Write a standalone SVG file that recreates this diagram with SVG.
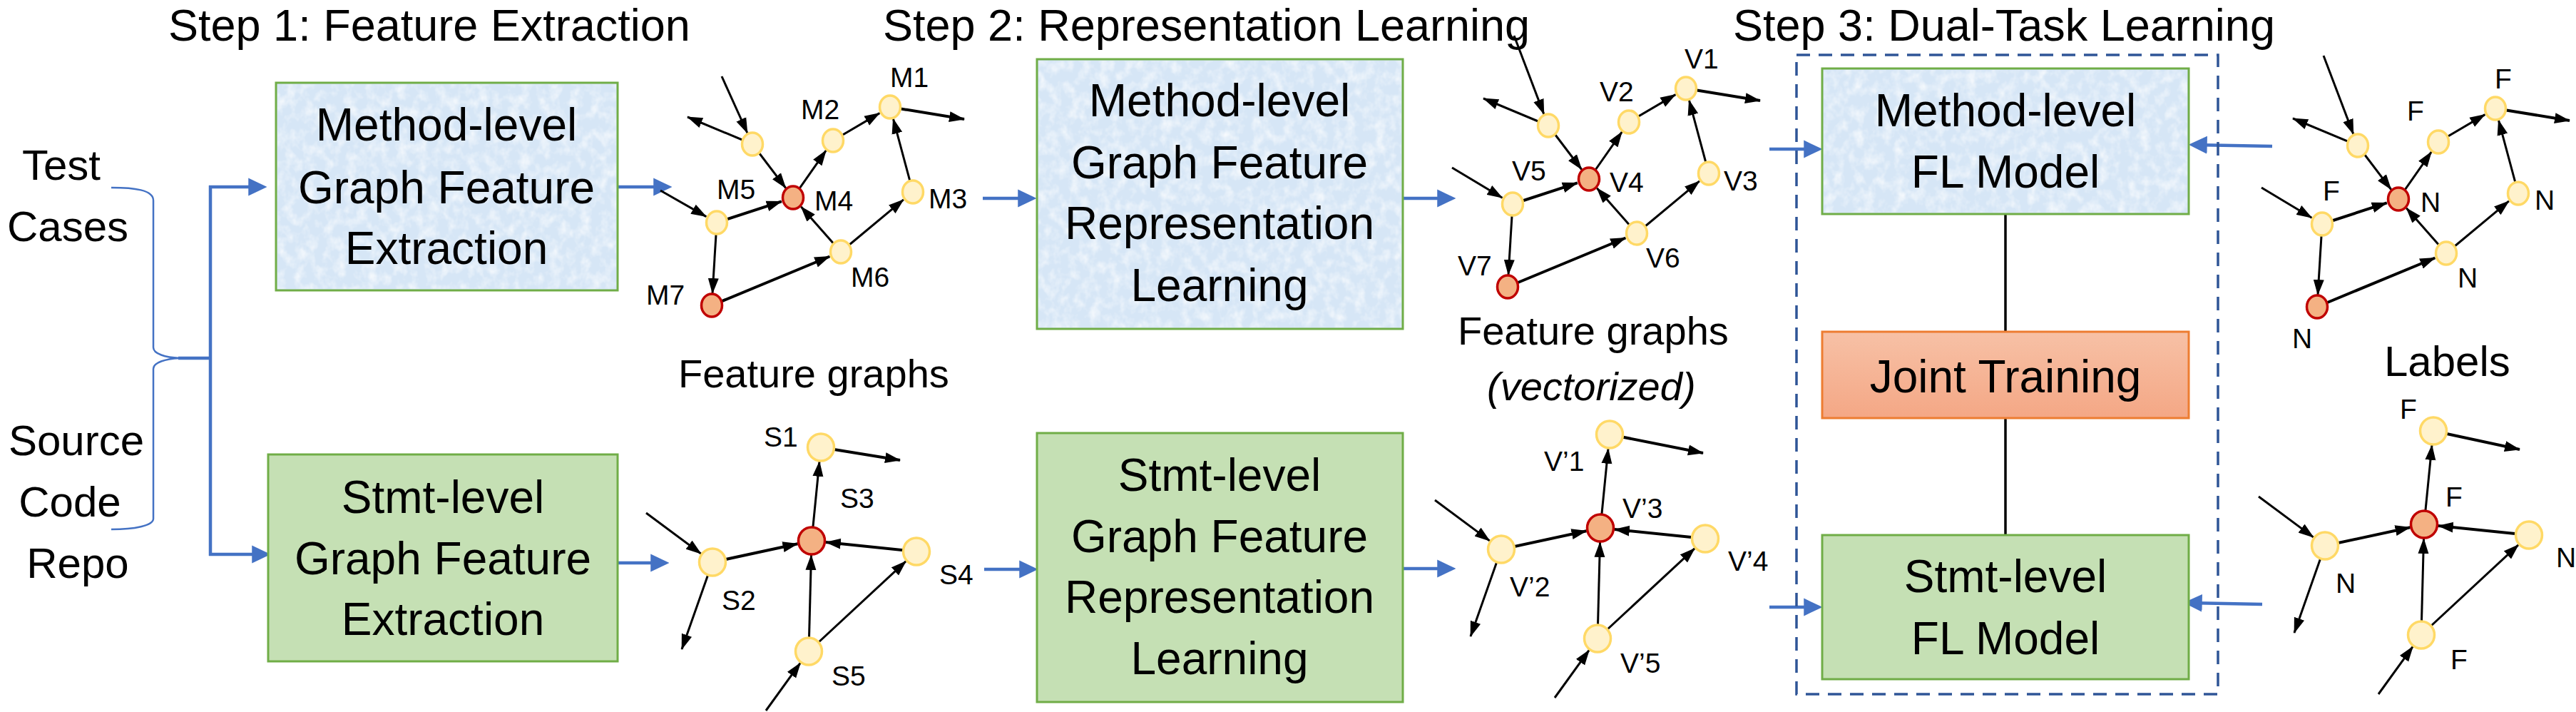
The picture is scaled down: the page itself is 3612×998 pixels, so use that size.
<svg xmlns="http://www.w3.org/2000/svg" width="3612" height="998" viewBox="0 0 3612 998">
<defs>
<style>
text{font-family:"Liberation Sans",Arial,sans-serif;fill:#000}
.big{font-size:64px}
.ttl{font-size:63px}
.mid{font-size:56px}
.lbl{font-size:39px}
.box-m{fill:#D6E6F6;stroke:#70AD47;stroke-width:3}
.box-s{fill:#C5E0B4;stroke:#70AD47;stroke-width:3}
.tex{fill:#fff}
.ny{fill:#FFF2CC;stroke:#FFD966;stroke-width:3.5}
.nr{fill:#F4B183;stroke:#C00000;stroke-width:3.5}
.e{stroke:#000;stroke-width:3;fill:none;marker-end:url(#ah)}
.et{stroke:#000;stroke-width:4;fill:none;marker-end:url(#ah)}
.b{stroke:#4472C4;stroke-width:4.5;fill:none;marker-end:url(#bh)}
.bl{stroke:#4472C4;stroke-width:4.5;fill:none}
.brace{stroke:#4472C4;stroke-width:2.5;fill:none}
.ln{stroke:#000;stroke-width:3.5}
</style>
<marker id="ah" markerUnits="userSpaceOnUse" markerWidth="22" markerHeight="16" refX="21" refY="7.5" orient="auto" viewBox="0 0 22 15">
<path d="M0,0 L22,7.5 L0,15 Z" fill="#000"/>
</marker>
<marker id="bh" markerUnits="userSpaceOnUse" markerWidth="26" markerHeight="26" refX="18" refY="12" orient="auto" viewBox="0 0 25 24">
<path d="M0,0 L25,12 L0,24 Z" fill="#4472C4"/>
</marker>
<linearGradient id="jg" x1="0" y1="0" x2="0" y2="1">
<stop offset="0" stop-color="#F7C1A6"/>
<stop offset="1" stop-color="#F4A785"/>
</linearGradient>
<filter id="speckle" x="0" y="0" width="1" height="1">
<feTurbulence type="fractalNoise" baseFrequency="0.07 0.06" numOctaves="3" seed="4" result="n"/>
<feColorMatrix in="n" type="matrix" values="0 0 0 0 1  0 0 0 0 1  0 0 0 0 1  0 0 0 1.5 -0.62" result="a"/>
<feComposite in="a" in2="SourceGraphic" operator="in"/>
</filter>
</defs>
<rect width="3612" height="998" fill="#fff"/>

<g id="titles">
<text class="ttl" x="236" y="57">Step 1: Feature Extraction</text>
<text class="ttl" x="1238" y="57">Step 2: Representation Learning</text>
<text class="ttl" x="2430" y="57">Step 3: Dual-Task Learning</text>
</g>

<g id="inputs">
<text class="big" x="86" y="252" text-anchor="middle" style="font-size:60px">Test</text>
<text class="big" x="95" y="338" text-anchor="middle" style="font-size:60px">Cases</text>
<text class="big" x="107" y="638" text-anchor="middle" style="font-size:60px">Source</text>
<text class="big" x="98" y="724" text-anchor="middle" style="font-size:60px">Code</text>
<text class="big" x="109" y="810" text-anchor="middle" style="font-size:60px">Repo</text>
</g>

<g id="connectors">
<path class="brace" d="M156,263 C188,263 215,266 215,281 L215,487 C215,496 232,501 252,502"/>
<path class="brace" d="M252,502 C232,503 215,508 215,517 L215,727 C215,737 188,742 156,742"/>
<path class="bl" d="M250,502 H295 M295,260 V779"/>
<path class="b" d="M293,262 H367"/>
<path class="b" d="M293,777 H372"/>
<path class="b" d="M866,262 H935"/>
<path class="b" d="M866,789 H931"/>
<path class="b" d="M1378,278 H1446"/>
<path class="b" d="M1380,798 H1448"/>
<path class="b" d="M1967,278 H2034"/>
<path class="b" d="M1967,797 H2034"/>
<path class="b" d="M2481,209 H2548"/>
<path class="b" d="M2481,851 H2548"/>
<path class="b" d="M3186,205 L3076,203"/>
<path class="b" d="M3172,847 L3069,845"/>
<line class="ln" x1="2812" y1="300" x2="2812" y2="465"/>
<line class="ln" x1="2812" y1="586" x2="2812" y2="750"/>

<g id="edges-m">
<path class="e" d="M1012,107 L1048,186.5"/>
<path class="e" d="M1055,202 L964,164"/>
<path class="e" d="M1055,202 L1101.7,263.5"/>
<path class="e" d="M1112,277 L1158.3,210.9"/>
<path class="e" d="M1168,197 L1233.3,158.6"/>
<path class="et" d="M1248,150 L1352,167"/>
<path class="e" d="M1280,269 L1252.4,166.4"/>
<path class="et" d="M1005,312 L1095.8,282.3"/>
<path class="e" d="M1179,353 L1123.2,289.8"/>
<path class="e" d="M1179,353 L1266.9,279.9"/>
<path class="e" d="M1005,312 L999,411"/>
<path class="et" d="M998,428 L1163.3,359.5"/>
<path class="e" d="M926,267 L990.2,303.6"/>
</g>
<g id="edges-v" transform="translate(1116,-26)">
<path class="e" d="M1007,76 L1048.9,186.1"/>
<path class="e" d="M1055,202 L964,164"/>
<path class="e" d="M1055,202 L1101.7,263.5"/>
<path class="e" d="M1112,277 L1158.3,210.9"/>
<path class="e" d="M1168,197 L1233.3,158.6"/>
<path class="et" d="M1248,150 L1352,167"/>
<path class="e" d="M1280,269 L1252.4,166.4"/>
<path class="et" d="M1005,312 L1095.8,282.3"/>
<path class="e" d="M1179,353 L1123.2,289.8"/>
<path class="e" d="M1179,353 L1266.9,279.9"/>
<path class="e" d="M1005,312 L999,411"/>
<path class="et" d="M998,428 L1163.3,359.5"/>
<path class="e" d="M920,261 L990.4,303.2"/>
</g>
<g id="edges-ml" transform="translate(2251,2)">
<path class="e" d="M1007,76 L1048.9,186.1"/>
<path class="e" d="M1055,202 L964,164"/>
<path class="e" d="M1055,202 L1101.7,263.5"/>
<path class="e" d="M1112,277 L1158.3,210.9"/>
<path class="e" d="M1168,197 L1233.3,158.6"/>
<path class="et" d="M1248,150 L1352,167"/>
<path class="e" d="M1280,269 L1252.4,166.4"/>
<path class="et" d="M1005,312 L1095.8,282.3"/>
<path class="e" d="M1179,353 L1123.2,289.8"/>
<path class="e" d="M1179,353 L1266.9,279.9"/>
<path class="e" d="M1005,312 L999,411"/>
<path class="et" d="M998,428 L1163.3,359.5"/>
<path class="e" d="M920,261 L990.4,303.2"/>
</g>
<g id="edges-s">
<path class="e" d="M906,719 L982.9,776.1"/>
<path class="et" d="M999,788 L1118.5,762.2"/>
<path class="et" d="M1285,773 L1157.9,760"/>
<path class="e" d="M1138,758 L1149,646.9"/>
<path class="et" d="M1151,627 L1262,645"/>
<path class="e" d="M1134,913 L1137.5,778"/>
<path class="e" d="M1134,913 L1270.3,786.6"/>
<path class="e" d="M999,788 L956,910"/>
<path class="e" d="M1074,996 L1122.3,929.2"/>
</g>
<g id="edges-vs" transform="translate(1106,-18)">
<path class="e" d="M906,719 L982.9,776.1"/>
<path class="et" d="M999,788 L1118.5,762.2"/>
<path class="et" d="M1285,773 L1157.9,760"/>
<path class="e" d="M1138,758 L1149,646.9"/>
<path class="et" d="M1151,627 L1282,653"/>
<path class="e" d="M1134,913 L1137.5,778"/>
<path class="e" d="M1134,913 L1270.3,786.6"/>
<path class="e" d="M999,788 L956,910"/>
<path class="e" d="M1074,996 L1122.3,929.2"/>
</g>
<g id="edges-sl" transform="translate(2261,-23)">
<path class="e" d="M906,719 L982.9,776.1"/>
<path class="et" d="M999,788 L1118.5,762.2"/>
<path class="et" d="M1285,773 L1157.9,760"/>
<path class="e" d="M1138,758 L1149,646.9"/>
<path class="et" d="M1151,627 L1272,653"/>
<path class="e" d="M1134,913 L1137.5,778"/>
<path class="e" d="M1134,913 L1270.3,786.6"/>
<path class="e" d="M999,788 L956,910"/>
<path class="e" d="M1074,996 L1122.3,929.2"/>
</g>
</g>

<g id="dual-task-frame">
<rect x="2519" y="77" width="591" height="896" fill="none" stroke="#2F5597" stroke-width="3.5" stroke-dasharray="19 12"/>
</g>

<g id="method-extract">
<rect class="box-m" x="387" y="116" width="479" height="291"/>
<rect class="tex" x="389" y="118" width="475" height="287" filter="url(#speckle)"/>
<text class="big" x="626" y="197" text-anchor="middle">Method-level</text>
<text class="big" x="626" y="285" text-anchor="middle">Graph Feature</text>
<text class="big" x="626" y="370" text-anchor="middle">Extraction</text>
</g>
<g id="stmt-extract">
<rect class="box-s" x="376" y="637" width="490" height="290"/>
<text class="big" x="621" y="719" text-anchor="middle">Stmt-level</text>
<text class="big" x="621" y="805" text-anchor="middle">Graph Feature</text>
<text class="big" x="621" y="890" text-anchor="middle">Extraction</text>
</g>
<g id="method-repr">
<rect class="box-m" x="1454" y="83" width="513" height="378"/>
<rect class="tex" x="1456" y="85" width="509" height="374" filter="url(#speckle)"/>
<text class="big" x="1710" y="163" text-anchor="middle">Method-level</text>
<text class="big" x="1710" y="250" text-anchor="middle">Graph Feature</text>
<text class="big" x="1710" y="335" text-anchor="middle">Representation</text>
<text class="big" x="1710" y="422" text-anchor="middle">Learning</text>
</g>
<g id="stmt-repr">
<rect class="box-s" x="1454" y="607" width="513" height="377"/>
<text class="big" x="1710" y="688" text-anchor="middle">Stmt-level</text>
<text class="big" x="1710" y="774" text-anchor="middle">Graph Feature</text>
<text class="big" x="1710" y="859" text-anchor="middle">Representation</text>
<text class="big" x="1710" y="945" text-anchor="middle">Learning</text>
</g>
<g id="method-fl">
<rect class="box-m" x="2555" y="96" width="514" height="204"/>
<rect class="tex" x="2557" y="98" width="510" height="200" filter="url(#speckle)"/>
<text class="big" x="2812" y="177" text-anchor="middle">Method-level</text>
<text class="big" x="2812" y="263" text-anchor="middle">FL Model</text>
</g>
<g id="joint-training">
<rect x="2555" y="465" width="514" height="121" fill="url(#jg)" stroke="#ED7D31" stroke-width="3"/>
<text class="big" x="2812" y="550" text-anchor="middle">Joint Training</text>
</g>
<g id="stmt-fl">
<rect class="box-s" x="2555" y="750" width="514" height="202"/>
<text class="big" x="2812" y="830" text-anchor="middle">Stmt-level</text>
<text class="big" x="2812" y="917" text-anchor="middle">FL Model</text>
</g>

<g id="captions">
<text class="mid" x="951" y="543">Feature graphs</text>
<text class="mid" x="2044" y="483">Feature graphs</text>
<text class="mid" x="2085" y="561" font-style="italic">(vectorized)</text>
<text class="big" x="3343" y="527" style="font-size:60px">Labels</text>
</g>

<g id="graph-method">
<g id="m1"><ellipse class="ny" cx="1248" cy="150" rx="14.5" ry="16"/><text class="lbl" x="1248" y="122">M1</text></g>
<g id="m2"><ellipse class="ny" cx="1168" cy="197" rx="14.5" ry="16"/><text class="lbl" x="1123" y="167">M2</text></g>
<g id="m-u"><ellipse class="ny" cx="1055" cy="202" rx="14.5" ry="16"/></g>
<g id="m4"><ellipse class="nr" cx="1112" cy="277" rx="14.5" ry="16"/><text class="lbl" x="1142" y="295">M4</text></g>
<g id="m5"><ellipse class="ny" cx="1005" cy="312" rx="14.5" ry="16"/><text class="lbl" x="1005" y="279">M5</text></g>
<g id="m3"><ellipse class="ny" cx="1280" cy="269" rx="14.5" ry="16"/><text class="lbl" x="1302" y="292">M3</text></g>
<g id="m6"><ellipse class="ny" cx="1179" cy="353" rx="14.5" ry="16"/><text class="lbl" x="1193" y="402">M6</text></g>
<g id="m7"><ellipse class="nr" cx="998" cy="428" rx="14.5" ry="16"/><text class="lbl" x="906" y="427">M7</text></g>
</g>

<g id="graph-vec">
<g id="v1"><ellipse class="ny" cx="2364" cy="124" rx="14.5" ry="16"/><text class="lbl" x="2362" y="96">V1</text></g>
<g id="v2"><ellipse class="ny" cx="2284" cy="171" rx="14.5" ry="16"/><text class="lbl" x="2243" y="142">V2</text></g>
<g id="v-u"><ellipse class="ny" cx="2171" cy="176" rx="14.5" ry="16"/></g>
<g id="v4"><ellipse class="nr" cx="2228" cy="251" rx="14.5" ry="16"/><text class="lbl" x="2257" y="269">V4</text></g>
<g id="v5"><ellipse class="ny" cx="2121" cy="286" rx="14.5" ry="16"/><text class="lbl" x="2120" y="253">V5</text></g>
<g id="v3"><ellipse class="ny" cx="2396" cy="243" rx="14.5" ry="16"/><text class="lbl" x="2417" y="267">V3</text></g>
<g id="v6"><ellipse class="ny" cx="2295" cy="327" rx="14.5" ry="16"/><text class="lbl" x="2308" y="375">V6</text></g>
<g id="v7"><ellipse class="nr" cx="2114" cy="402" rx="14.5" ry="16"/><text class="lbl" x="2044" y="386">V7</text></g>
</g>

<g id="graph-mlabels">
<g id="ml-1"><ellipse class="ny" cx="3499" cy="152" rx="14.5" ry="16"/><text class="lbl" x="3498" y="124">F</text></g>
<g id="ml-2"><ellipse class="ny" cx="3419" cy="199" rx="14.5" ry="16"/><text class="lbl" x="3375" y="169">F</text></g>
<g id="ml-u"><ellipse class="ny" cx="3306" cy="204" rx="14.5" ry="16"/></g>
<g id="ml-4"><ellipse class="nr" cx="3363" cy="279" rx="14.5" ry="16"/><text class="lbl" x="3394" y="297">N</text></g>
<g id="ml-5"><ellipse class="ny" cx="3256" cy="314" rx="14.5" ry="16"/><text class="lbl" x="3257" y="281">F</text></g>
<g id="ml-3"><ellipse class="ny" cx="3531" cy="271" rx="14.5" ry="16"/><text class="lbl" x="3554" y="294">N</text></g>
<g id="ml-6"><ellipse class="ny" cx="3430" cy="355" rx="14.5" ry="16"/><text class="lbl" x="3446" y="403">N</text></g>
<g id="ml-7"><ellipse class="nr" cx="3249" cy="430" rx="14.5" ry="16"/><text class="lbl" x="3214" y="488">N</text></g>
</g>

<g id="graph-stmt">
<g id="s1"><ellipse class="ny" cx="1151" cy="627" rx="18.5" ry="19"/><text class="lbl" x="1071" y="626">S1</text></g>
<g id="s3"><ellipse class="nr" cx="1138" cy="758" rx="18.5" ry="19"/><text class="lbl" x="1178" y="712">S3</text></g>
<g id="s2"><ellipse class="ny" cx="999" cy="788" rx="18.5" ry="19"/><text class="lbl" x="1012" y="855">S2</text></g>
<g id="s4"><ellipse class="ny" cx="1285" cy="773" rx="18.5" ry="19"/><text class="lbl" x="1317" y="819">S4</text></g>
<g id="s5"><ellipse class="ny" cx="1134" cy="913" rx="18.5" ry="19"/><text class="lbl" x="1166" y="961">S5</text></g>
</g>

<g id="graph-stmt-vec">
<g id="vs1"><ellipse class="ny" cx="2257" cy="609" rx="18.5" ry="19"/><text class="lbl" x="2165" y="660">V’1</text></g>
<g id="vs3"><ellipse class="nr" cx="2244" cy="740" rx="18.5" ry="19"/><text class="lbl" x="2275" y="726">V’3</text></g>
<g id="vs2"><ellipse class="ny" cx="2105" cy="770" rx="18.5" ry="19"/><text class="lbl" x="2117" y="836">V’2</text></g>
<g id="vs4"><ellipse class="ny" cx="2391" cy="755" rx="18.5" ry="19"/><text class="lbl" x="2423" y="800">V’4</text></g>
<g id="vs5"><ellipse class="ny" cx="2240" cy="895" rx="18.5" ry="19"/><text class="lbl" x="2272" y="943">V’5</text></g>
</g>

<g id="graph-slabels">
<g id="sl-1"><ellipse class="ny" cx="3412" cy="604" rx="18.5" ry="19"/><text class="lbl" x="3365" y="587">F</text></g>
<g id="sl-3"><ellipse class="nr" cx="3399" cy="735" rx="18.5" ry="19"/><text class="lbl" x="3429" y="710">F</text></g>
<g id="sl-2"><ellipse class="ny" cx="3260" cy="765" rx="18.5" ry="19"/><text class="lbl" x="3275" y="831">N</text></g>
<g id="sl-4"><ellipse class="ny" cx="3546" cy="750" rx="18.5" ry="19"/><text class="lbl" x="3584" y="795">N</text></g>
<g id="sl-5"><ellipse class="ny" cx="3395" cy="890" rx="18.5" ry="19"/><text class="lbl" x="3436" y="938">F</text></g>
</g>
</svg>
